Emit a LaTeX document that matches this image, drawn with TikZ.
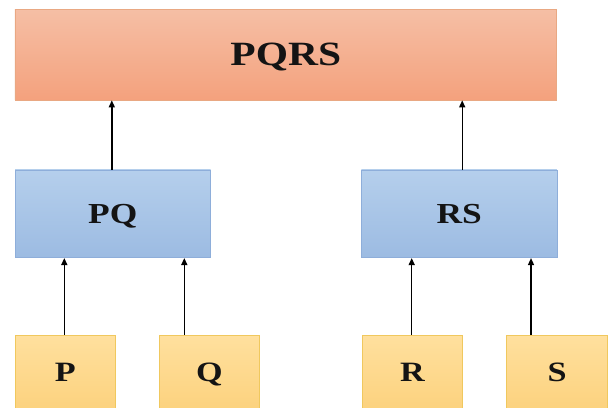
\documentclass[tikz,border=0pt]{standalone}
\usepackage{fontspec}
\setmainfont{Liberation Serif}
\newfontfamily\boxfont[FakeStretch=1.22]{Liberation Serif}
\usetikzlibrary{arrows.meta}
\definecolor{salTop}{HTML}{F5BFA5}
\definecolor{salBot}{HTML}{F4A17D}
\definecolor{salLine}{HTML}{E9A883}
\definecolor{bluTop}{HTML}{B5CFEC}
\definecolor{bluBot}{HTML}{9CBBE2}
\definecolor{bluLine}{HTML}{8EAEDA}
\definecolor{golTop}{HTML}{FFE09E}
\definecolor{golBot}{HTML}{FCD27E}
\definecolor{golLine}{HTML}{F0C85E}
\definecolor{txt}{HTML}{141414}
\begin{document}
\begin{tikzpicture}[x=1pt,y=-1pt,
  basebox/.style={rectangle, line width=0.8pt, inner sep=0pt, text=txt, text depth=0pt},
  topbox/.style={basebox, draw=salLine, top color=salTop, bottom color=salBot,
    minimum width=541.7pt, minimum height=90.7pt, text height=22.5pt,
    font=\boxfont\bfseries\fontsize{34}{40}\selectfont},
  midbox/.style={basebox, draw=bluLine, top color=bluTop, bottom color=bluBot,
    minimum width=195.5pt, minimum height=87.7pt, text height=19.2pt,
    font=\boxfont\bfseries\fontsize{29}{34}\selectfont},
  leafbox/.style={basebox, draw=golLine, top color=golTop, bottom color=golBot,
    minimum width=100.6pt, minimum height=75pt, text height=18.5pt,
    font=\boxfont\bfseries\fontsize{28}{33}\selectfont},
  uparrow/.style={-{Triangle[length=7pt,width=6pt]}, line width=1.4pt, draw=black}]
\clip (0,0) rectangle (613,407);
\fill[white] (0,0) rectangle (613,407);
\node[topbox] (PQRS) at (285.8,54.6) {PQRS};
\node[midbox] (PQ) at (112.8,213.8) {PQ};
\node[midbox] (RS) at (459.2,213.8) {RS};
\node[leafbox] (P) at (65.3,372.5) {P};
\node[leafbox] (Q) at (209.3,372.5) {Q};
\node[leafbox] (R) at (412.5,372.5) {R};
\node[leafbox] (S) at (557,372.5) {S};
\draw[uparrow] ([xshift=-1pt]PQ.north) -- ([xshift=-1pt]PQ.north |- PQRS.south);
\draw[uparrow] ([xshift=3pt]RS.north) -- ([xshift=3pt]RS.north |- PQRS.south);
\draw[uparrow] ([xshift=-1pt]P.north) -- ([xshift=-1pt]P.north |- PQ.south);
\draw[uparrow] ([xshift=-25pt]Q.north) -- ([xshift=-25pt]Q.north |- PQ.south);
\draw[uparrow] ([xshift=-0.8pt]R.north) -- ([xshift=-0.8pt]R.north |- RS.south);
\draw[uparrow] ([xshift=-26pt]S.north) -- ([xshift=-26pt]S.north |- RS.south);
\end{tikzpicture}
\end{document}
